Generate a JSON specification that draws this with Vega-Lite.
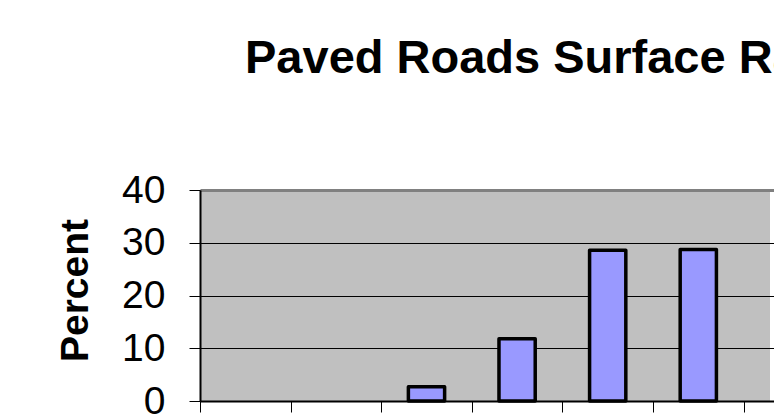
{
  "$schema": "https://vega.github.io/schema/vega-lite/v6.json",
  "width": 570,
  "height": 211,
  "autosize": {"type": "none"},
  "padding": {"left": 200, "top": 190, "right": 4, "bottom": 16},
  "background": "white",
  "title": {
    "text": "Paved Roads Surface Rating",
    "anchor": "start",
    "frame": "group",
    "dx": 45,
    "font": "Liberation Sans",
    "fontSize": 47,
    "fontWeight": "bold",
    "color": "black",
    "baseline": "alphabetic",
    "offset": 51
  },
  "data": {
    "values": [
      {"rating": "3", "percent": 2.7},
      {"rating": "4", "percent": 11.8},
      {"rating": "5", "percent": 28.6},
      {"rating": "6", "percent": 28.7}
    ]
  },
  "mark": {
    "type": "bar",
    "fill": "#9999FF",
    "stroke": "black",
    "strokeWidth": 3.5,
    "strokeJoin": "round",
    "width": {"band": 0.4}
  },
  "encoding": {
    "x": {
      "field": "rating",
      "type": "ordinal",
      "scale": {
        "domain": ["1", "2", "3", "4", "5", "6", "7", "8", "9", "10"],
        "paddingInner": 0,
        "paddingOuter": 0,
        "range": [0, 906]
      },
      "axis": {
        "title": null,
        "labels": false,
        "ticks": true,
        "tickBand": "extent",
        "tickColor": "black",
        "tickSize": 11,
        "tickWidth": 1,
        "domainColor": "black",
        "domainWidth": 2,
        "grid": false
      }
    },
    "y": {
      "field": "percent",
      "type": "quantitative",
      "scale": {"domain": [0, 40]},
      "axis": {
        "title": "Percent",
        "values": [0, 10, 20, 30, 40],
        "grid": true,
        "gridColor": {"condition": {"test": "datum.value === 40", "value": "#808080"}, "value": "black"},
        "gridWidth": {"condition": {"test": "datum.value === 40", "value": 3}, "value": 1},
        "domainColor": "black",
        "domainWidth": 2,
        "tickColor": "black",
        "tickSize": 11,
        "tickWidth": 1,
        "labelFont": "Liberation Sans",
        "labelFontSize": 39,
        "labelColor": "black",
        "labelPadding": 24,
        "labelFlush": false,
        "labelOverlap": false,
        "titleFont": "Liberation Sans",
        "titleFontSize": 39,
        "titleFontWeight": "bold",
        "titleColor": "black",
        "titleX": -125,
        "titleY": 100,
        "titleAlign": "center",
        "titleBaseline": "middle",
        "titleAngle": -90
      }
    }
  },
  "config": {"view": {"fill": "#C0C0C0", "stroke": null}}
}
